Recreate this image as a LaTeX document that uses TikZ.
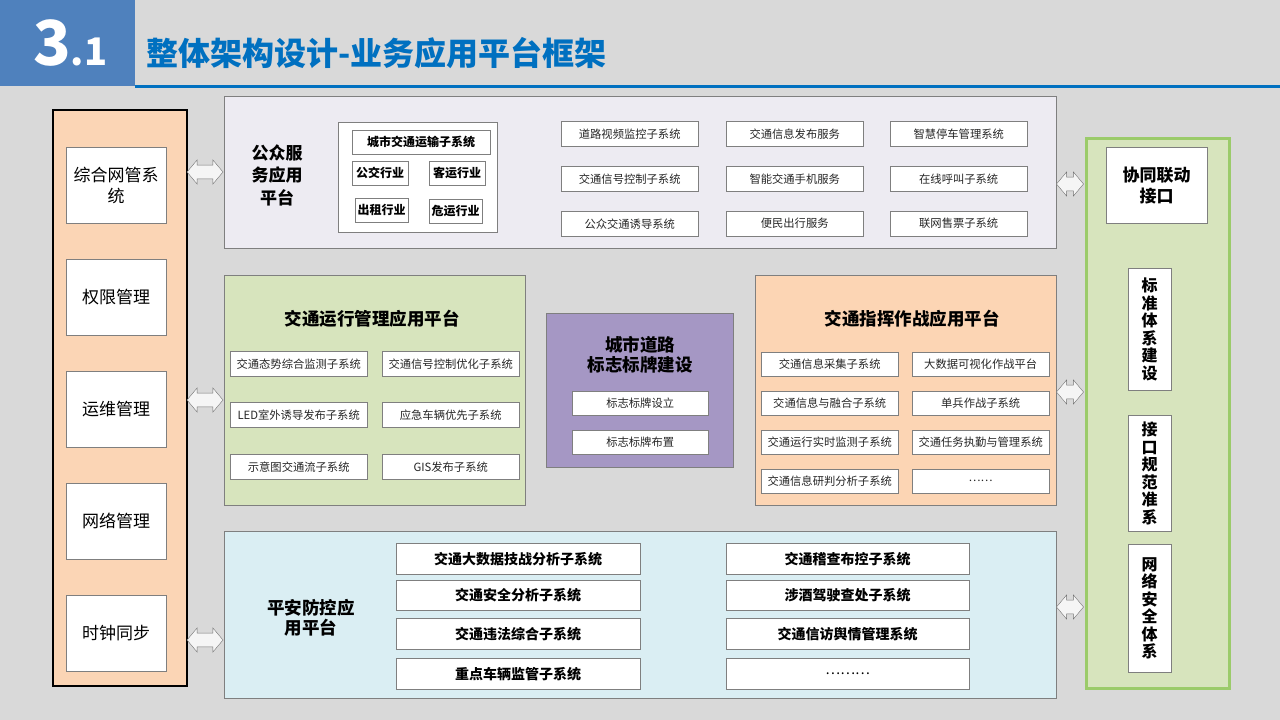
\documentclass[tikz,border=0pt]{standalone}
\usepackage{fontspec}
\setmainfont{Noto Sans CJK SC}
\usepackage{xcolor}
\usetikzlibrary{shapes.arrows}

\definecolor{bggray}{HTML}{D9D9D9}
\definecolor{numblue}{HTML}{4F81BD}
\definecolor{titleblue}{HTML}{0070C0}
\definecolor{boxgray}{HTML}{7F7F7F}
\definecolor{mgmtfill}{HTML}{FBD5B5}
\definecolor{pubfill}{HTML}{EDEBF2}
\definecolor{opsfill}{HTML}{D7E4BD}
\definecolor{signfill}{HTML}{A597C4}
\definecolor{cmdfill}{HTML}{FCD5B4}
\definecolor{safefill}{HTML}{DAEEF3}
\definecolor{linkgreen}{HTML}{9BCB6A}

\begin{document}
\begin{tikzpicture}[x=1pt, y=-1pt,
  platform/.style={draw=boxgray, line width=1pt, inner sep=0pt, anchor=north west},
  mbox/.style={draw=boxgray, fill=white, inner sep=0pt, anchor=north west, minimum width=100, minimum height=76, align=center, font=\fontsize{17}{21}\selectfont},
  sub/.style={draw=boxgray, fill=white, inner sep=0pt, anchor=north west, minimum width=137, minimum height=25, text=black!85, font=\fontsize{11.3}{12}\selectfont},
  ind/.style={draw=boxgray, fill=white, inner sep=0pt, anchor=north west, minimum height=24, font=\bfseries\fontsize{12}{13}\selectfont},
  safe/.style={draw=boxgray, fill=white, inner sep=0pt, anchor=north west, minimum height=31, font=\bfseries\fontsize{14}{15}\selectfont},
  vbox/.style={draw=boxgray, fill=white, inner sep=0pt, anchor=north west, minimum width=43, align=center, font=\bfseries\fontsize{16}{17.5}\selectfont},
  ptitle/.style={align=center, font=\bfseries\fontsize{17.5}{22}\selectfont},
  dblarrow/.style={shape=double arrow, draw=gray!90!black, fill=white!75!bggray, inner xsep=0pt, inner ysep=6.5pt, double arrow head extend=5pt, double arrow tip angle=100}
]
\useasboundingbox (0,0) rectangle (1280,720);
\fill[bggray] (0,0) rectangle (1280,720);

\node[fill=numblue, minimum width=135, minimum height=86, inner sep=0pt, anchor=north west] (numbox) at (0,0) {};
\node[anchor=base west, inner sep=0pt, text=white, font=\bfseries\fontsize{62}{62}\selectfont] (num) at (33,65) {3\fontsize{38}{38}\selectfont.1};
\node[anchor=base west, inner sep=0pt, text=titleblue, font=\bfseries\fontsize{32}{32}\selectfont] (title) at (146,65) {整体架构设计-业务应用平台框架};
\draw[titleblue, line width=2.5pt] (numbox.south east) -- ++(1145,0);

\node[draw=black, line width=2pt, fill=mgmtfill, inner sep=0pt, anchor=north west, minimum width=134, minimum height=576] (mgmt) at (52,109) {};
\node[mbox] (nms) at (66,147) {综合网管系\\统};
\node[mbox] (auth) at (66,259) {权限管理};
\node[mbox] (oam) at (66,371) {运维管理};
\node[mbox] (net) at (66,483) {网络管理};
\node[mbox] (clock) at (66,595) {时钟同步};

\node[platform, fill=pubfill, minimum width=832, minimum height=152] (pub) at (224,96) {};
\node[ptitle, font=\bfseries\fontsize{17}{22.5}\selectfont] (pubtitle) at (277,175) {公众服\\务应用\\平台};
\node[draw=boxgray, fill=white, inner sep=0pt, anchor=north west, minimum width=159, minimum height=110] (trans) at (338,122) {};
\node[ind, minimum width=138] (transsys) at (352,130) {城市交通运输子系统};
\node[ind, minimum width=56] (bus) at (352,161) {公交行业};
\node[ind, minimum width=56] (coach) at (429,161) {客运行业};
\node[ind, minimum width=53] (taxi) at (355,198) {出租行业};
\node[ind, minimum width=53] (haz) at (429,199) {危运行业};

\node[sub] (video) at (561,121) {道路视频监控子系统};
\node[sub] (infopub) at (726,121) {交通信息发布服务};
\node[sub] (park) at (890,121) {智慧停车管理系统};
\node[sub] (signal) at (561,166) {交通信号控制子系统};
\node[sub] (mobile) at (726,166) {智能交通手机服务};
\node[sub] (call) at (890,166) {在线呼叫子系统};
\node[sub] (guide) at (561,211) {公众交通诱导系统};
\node[sub] (travel) at (726,211) {便民出行服务};
\node[sub] (ticket) at (890,211) {联网售票子系统};

\node[platform, fill=opsfill, minimum width=301, minimum height=230] (ops) at (224,275) {};
\node[ptitle] (opstitle) at (372,319) {交通运行管理应用平台};
\node[sub] (monitor) at (230,351) {交通态势综合监测子系统};
\node[sub] (optim) at (382,351) {交通信号控制优化子系统};
\node[sub] (led) at (230,402) {LED室外诱导发布子系统};
\node[sub] (emerg) at (382,402) {应急车辆优先子系统};
\node[sub] (flow) at (230,454) {示意图交通流子系统};
\node[sub] (gis) at (382,454) {GIS发布子系统};

\node[platform, fill=signfill, minimum width=187, minimum height=154] (sign) at (546,313) {};
\node[ptitle, font=\bfseries\fontsize{17.5}{20}\selectfont] (signtitle) at (640,355) {城市道路\\标志标牌建设};
\node[sub, minimum width=136, minimum height=24] (setup) at (572,391) {标志标牌设立};
\node[sub, minimum width=136, minimum height=24] (layout) at (572,430) {标志标牌布置};

\node[platform, fill=cmdfill, minimum width=301, minimum height=230] (cmd) at (755,275) {};
\node[ptitle] (cmdtitle) at (912,319) {交通指挥作战应用平台};
\node[sub, minimum height=24] (collect) at (761,352) {交通信息采集子系统};
\node[sub, minimum height=24] (bigdata) at (912,352) {大数据可视化作战平台};
\node[sub, minimum height=24] (fusion) at (761,391) {交通信息与融合子系统};
\node[sub, minimum height=24] (soldier) at (912,391) {单兵作战子系统};
\node[sub, minimum height=24] (realtime) at (761,430) {交通运行实时监测子系统};
\node[sub, minimum height=24] (duty) at (912,430) {交通任务执勤与管理系统};
\node[sub, minimum height=24] (judge) at (761,469) {交通信息研判分析子系统};
\node[sub, minimum height=24] (cmdmore) at (912,469) {……};

\node[platform, fill=safefill, minimum width=832, minimum height=167] (safety) at (224,531) {};
\node[ptitle, font=\bfseries\fontsize{17.5}{20}\selectfont] (safetitle) at (311,618) {平安防控应\\用平台};
\node[safe, minimum width=244] (tactic) at (396,543) {交通大数据技战分析子系统};
\node[safe, minimum width=244, minimum height=30] (secure) at (396,580) {交通安全分析子系统};
\node[safe, minimum width=244] (illegal) at (396,618) {交通违法综合子系统};
\node[safe, minimum width=244] (vehicle) at (396,658) {重点车辆监管子系统};
\node[safe, minimum width=243] (inspect) at (726,543) {交通稽查布控子系统};
\node[safe, minimum width=243, minimum height=30] (drunk) at (726,580) {涉酒驾驶查处子系统};
\node[safe, minimum width=243] (petition) at (726,618) {交通信访舆情管理系统};
\node[safe, minimum width=243] (safemore) at (726,658) {\mdseries ………};

\node[draw=linkgreen, line width=2.5pt, fill=opsfill, inner sep=0pt, anchor=north west, minimum width=143, minimum height=550] (link) at (1085,137) {};
\node[draw=boxgray, fill=white, inner sep=0pt, anchor=north west, minimum width=101, minimum height=76, align=center, font=\bfseries\fontsize{17}{21}\selectfont] (coop) at (1106,147) {协同联动\\接口};
\node[vbox, minimum height=122] (std) at (1128,268) {标\\准\\体\\系\\建\\设};
\node[vbox, minimum height=116] (spec) at (1128,415) {接\\口\\规\\范\\准\\系};
\node[vbox, minimum height=128] (sec) at (1128,544) {网\\络\\安\\全\\体\\系};

\node[dblarrow, minimum height=36, minimum width=24] (la1) at (205,172) {};
\node[dblarrow, minimum height=36, minimum width=24] (la2) at (205,400) {};
\node[dblarrow, minimum height=36, minimum width=24] (la3) at (205,640) {};
\node[dblarrow, minimum height=27, minimum width=24] (ra1) at (1070,184) {};
\node[dblarrow, minimum height=27, minimum width=24] (ra2) at (1070,392) {};
\node[dblarrow, minimum height=27, minimum width=24] (ra3) at (1070,607) {};

\end{tikzpicture}
\end{document}
